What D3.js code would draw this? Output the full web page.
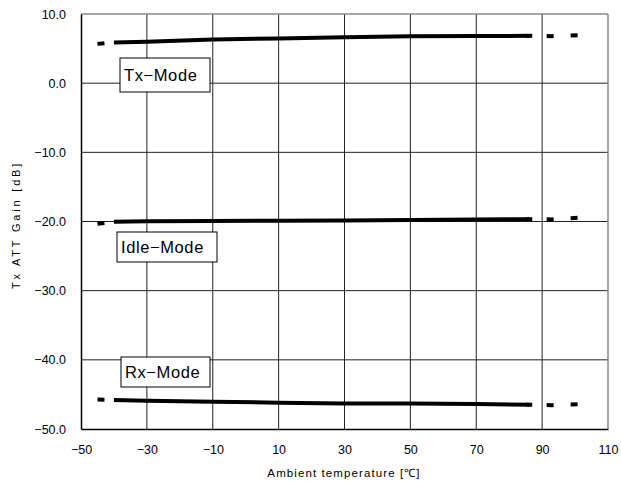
<!DOCTYPE html>
<html><head><meta charset="utf-8">
<script src="https://cdn.jsdelivr.net/npm/d3@7"></script>
<style>body{margin:0;background:#fff}</style>
</head><body>
<svg id="c" width="621" height="481"></svg>
<script>
// Data
const temps = [-40, -30, -10, 10, 30, 50, 70, 87];
const txGain   = [5.88, 5.97, 6.32, 6.46, 6.65, 6.80, 6.82, 6.84];
const idleGain = [-20.05, -19.98, -19.92, -19.88, -19.85, -19.78, -19.72, -19.66];
const rxGain   = [-45.80, -45.90, -46.05, -46.20, -46.30, -46.30, -46.40, -46.50];
// extrapolated (dashed) portions
const extLoTemps = [-45, -40];
const txExtLo   = [5.68, 5.88];
const idleExtLo = [-20.34, -20.05];
const rxExtLo   = [-45.75, -45.80];
const extHiTemps = [85, 93, 101];
const txExtHi   = [6.83, 6.80, 6.92];
const idleExtHi = [-19.66, -19.70, -19.45];
const rxExtHi   = [-46.50, -46.55, -46.40];
const modeLabels = ["Tx−Mode", "Idle−Mode", "Rx−Mode"];
const xTicks = [-50, -30, -10, 10, 30, 50, 70, 90, 110];
const yTicks = [-50, -40, -30, -20, -10, 0, 10];

const svg = d3.select("#c");
const L = 81, T = 14, W = 527, H = 415;
const x = d3.scaleLinear().domain([-50, 110]).range([L, L + W]);
const y = d3.scaleLinear().domain([-50, 10]).range([T + H, T]);
const minus = s => s.replace(/-/g, "\u2212");
const FONT = "Liberation Sans, Arial, sans-serif";

// gridlines
svg.append("g").selectAll("line").data(xTicks.slice(1, -1)).join("line")
  .attr("x1", d => x(d)).attr("x2", d => x(d)).attr("y1", T).attr("y2", T + H)
  .attr("stroke", "#222").attr("stroke-width", 1);
svg.append("g").selectAll("line").data(yTicks.slice(1, -1)).join("line")
  .attr("x1", L).attr("x2", L + W).attr("y1", d => y(d)).attr("y2", d => y(d))
  .attr("stroke", "#222").attr("stroke-width", 1);

// frame
svg.append("line").attr("x1", L).attr("x2", L + W).attr("y1", T).attr("y2", T).attr("stroke", "#888").attr("stroke-width", 1.5);
svg.append("line").attr("x1", L + W).attr("x2", L + W).attr("y1", T).attr("y2", T + H).attr("stroke", "#888").attr("stroke-width", 1.5);

const xAxis = d3.axisBottom(x).tickValues(xTicks).tickSize(0).tickPadding(0).tickFormat(d => minus(d3.format("d")(d)));
const gx = svg.append("g").attr("transform", `translate(0,${T + H})`).call(xAxis);
gx.select(".domain").attr("stroke", "#000").attr("stroke-width", 1.5);
gx.selectAll("text").attr("y", 16).attr("dy", "0.71em").attr("font-size", 12.5).attr("font-family", FONT).attr("fill", "#000");

const yAxis = d3.axisLeft(y).tickValues(yTicks).tickSize(0).tickPadding(15).tickFormat(d => minus(d3.format(".1f")(d)));
const gy = svg.append("g").attr("transform", `translate(${L},0)`).call(yAxis);
gy.select(".domain").attr("stroke", "#000").attr("stroke-width", 1.5);
gy.selectAll("text").attr("font-size", 12.5).attr("font-family", FONT).attr("fill", "#000");

// lines
const line = d3.line().x(d => x(d[0])).y(d => y(d[1]));
const solid = [txGain, idleGain, rxGain];
const lo = [txExtLo, idleExtLo, rxExtLo];
const hi = [txExtHi, idleExtHi, rxExtHi];
solid.forEach((vals, i) => {
  svg.append("path").datum(temps.map((t, j) => [t, vals[j]])).attr("d", line)
    .attr("fill", "none").attr("stroke", "#000").attr("stroke-width", 4);
  svg.append("path").datum(extLoTemps.map((t, j) => [t, lo[i][j]])).attr("d", line)
    .attr("fill", "none").attr("stroke", "#000").attr("stroke-width", 4)
    .attr("stroke-dasharray", "7,17");
  svg.append("path").datum(extHiTemps.map((t, j) => [t, hi[i][j]])).attr("d", line)
    .attr("fill", "none").attr("stroke", "#000").attr("stroke-width", 4)
    .attr("stroke-dasharray", "7,17").attr("stroke-dashoffset", 3);
});

// mode label boxes
const boxes = [
  {x0: 120, y0: 58, w: 90, h: 34},
  {x0: 117, y0: 232, w: 100, h: 30},
  {x0: 121, y0: 357, w: 89, h: 30}
];
boxes.forEach((b, i) => {
  svg.append("rect").attr("x", b.x0).attr("y", b.y0).attr("width", b.w).attr("height", b.h)
    .attr("fill", "#fff").attr("stroke", "#000").attr("stroke-width", 1);
  svg.append("text").attr("x", b.x0 + 4).attr("y", b.y0 + b.h / 2).attr("dy", "0.36em")
    .attr("font-size", 16.5).attr("letter-spacing", 0.6).attr("font-family", FONT)
    .text(modeLabels[i]);
});

// axis titles
svg.append("text").attr("x", 344).attr("y", 477).attr("text-anchor", "middle")
  .attr("font-size", 11.5).attr("letter-spacing", 1.1).attr("font-family", FONT)
  .text("Ambient temperature [℃]");
svg.append("text").attr("transform", "translate(20,225) rotate(-90)").attr("text-anchor", "middle")
  .attr("font-size", 11).attr("letter-spacing", 2.8).attr("font-family", FONT)
  .text("Tx ATT Gain [dB]");
</script>
</body></html>
